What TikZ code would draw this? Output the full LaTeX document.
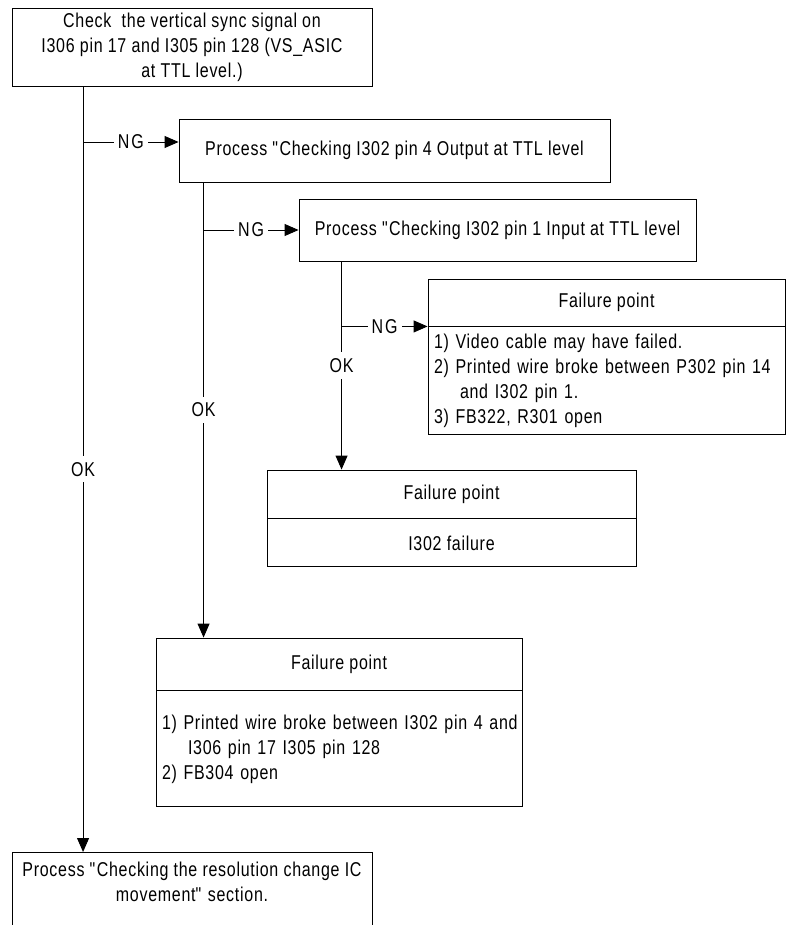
\documentclass[tikz,border=0pt]{standalone}
\usepackage{fontspec}
\setmainfont{Liberation Sans}[FakeStretch=0.8, LetterSpace=3.6]
\usetikzlibrary{arrows.meta}
\newcommand{\qq}{\textquotedbl}
\begin{document}
\begin{tikzpicture}[x=1pt, y=-1pt,
  font=\fontsize{20}{25}\selectfont,
  frame/.style={draw, line width=0.9pt, inner sep=0pt, anchor=center},
  arr/.style={line width=0.9pt, -{Triangle[length=14pt,width=12pt]}},
  lab/.style={fill=white, inner xsep=4pt, inner ysep=6pt}
]
\useasboundingbox (0,0) rectangle (786,925);
\clip (0,0) rectangle (786,925);

% checks
\node[frame, minimum width=360, minimum height=78, align=center] (start) at (192,47)
  {Check\ \ the vertical sync signal on\\I306 pin 17 and I305 pin 128 (VS\_ASIC\\at TTL level.)};
\node[frame, minimum width=431, minimum height=63] (p1) at (394.5,150.5)
  {Process \qq Checking I302 pin 4 Output at TTL level};
\node[frame, minimum width=397, minimum height=62] (p2) at (497.5,230)
  {Process \qq Checking I302 pin 1 Input at TTL level};

% failure point: cable / wiring
\node[frame, minimum width=357, minimum height=47] (fp1head) at (606.5,302.5) {Failure point};
\node[frame, anchor=north, minimum width=357, minimum height=108, text width=345,
      inner xsep=6pt, align=left] (fp1body) at (fp1head.south)
  {1) Video cable may have failed.\\
   2) Printed wire broke between P302 pin 14\\
   \hspace*{26pt}and I302 pin 1.\\
   3) FB322, R301 open};

% failure point: I302
\node[frame, minimum width=369, minimum height=48] (fp2head) at (451.5,494) {Failure point};
\node[frame, anchor=north, minimum width=369, minimum height=48] (fp2body) at (fp2head.south)
  {I302 failure};

% failure point: wiring to I306 / I305
\node[frame, minimum width=366, minimum height=52] (fp3head) at (339,664) {Failure point};
\node[frame, anchor=north, minimum width=366, minimum height=116, text width=354,
      inner xsep=6pt, align=left] (fp3body) at (fp3head.south)
  {\mbox{1) Printed wire broke between I302 pin 4 and}\\
   \hspace*{26pt}I306 pin 17 I305 pin 128\\
   2) FB304 open};

% next process
\node[frame, anchor=north, minimum width=360, inner ysep=10pt, text depth=60pt,
      align=center] (final) at (192,852)
  {Process \qq Checking the resolution change IC\\movement\qq{} section.};

% branch points
\coordinate (m)  at ([xshift=71.5]start.south west);
\coordinate (b1) at ([xshift=25]p1.south west);
\coordinate (b2) at ([xshift=43]p2.south west);
\coordinate (ng1) at ([yshift=8.5]p1.west);

% connectors
\draw[arr] (m) -- node[lab] {OK} (m |- final.north);
\draw[arr] (m |- ng1) -- node[lab] {N\hspace{2pt}G} (ng1);
\draw[arr] (b1) -- node[lab] {OK} (b1 |- fp3head.north);
\draw[arr] (b1 |- p2.west) -- node[lab] {N\hspace{2pt}G} (p2.west);
\draw[arr] (b2) -- node[lab] {OK} (b2 |- fp2head.north);
\draw[arr] (b2 |- fp1body.north west) -- node[lab] {N\hspace{2pt}G} (fp1body.north west);
\end{tikzpicture}
\end{document}
